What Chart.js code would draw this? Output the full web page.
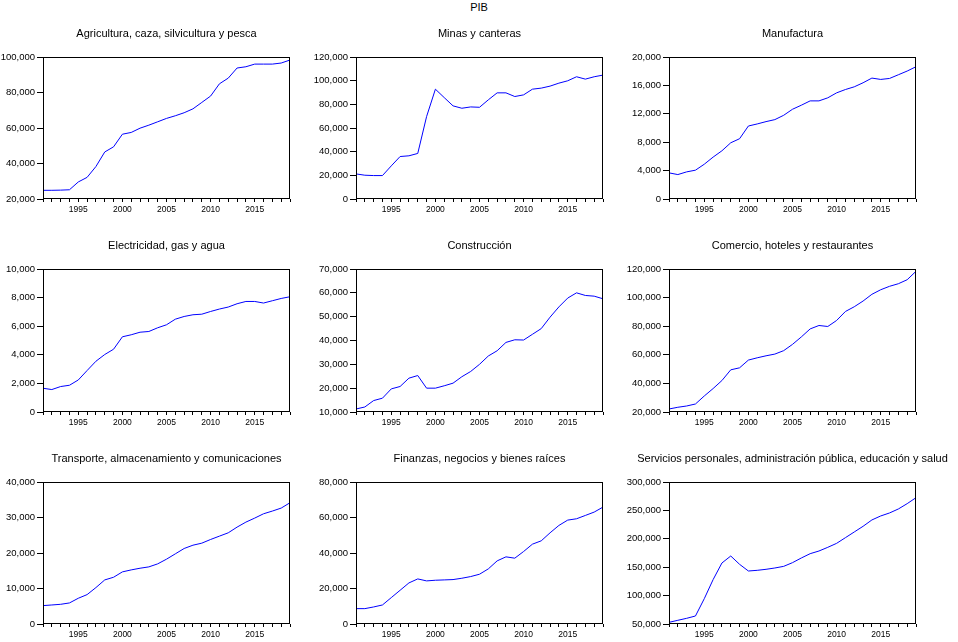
<!DOCTYPE html>
<html>
<head>
<meta charset="utf-8">
<title>PIB</title>
<script src="https://cdn.jsdelivr.net/npm/chart.js@4.4.1/dist/chart.umd.min.js"></script>
<style>
    html, body { margin: 0; padding: 0; background: #fff; }
    body { width: 958px; height: 642px; position: relative; overflow: hidden; font-family: "Liberation Sans", Arial, sans-serif; }
    #main-title { position: absolute; left: 0; top: 0; width: 958px; text-align: center; font-size: 11px; line-height: 14px; color: #000; }
    .panel { position: absolute; }
</style>
</head>
<body>
<div id="main-title">PIB</div>

<script>
/* =====================================
   DATA
===================================== */

const years = [1991, 1992, 1993, 1994, 1995, 1996, 1997, 1998, 1999, 2000,
               2001, 2002, 2003, 2004, 2005, 2006, 2007, 2008, 2009, 2010,
               2011, 2012, 2013, 2014, 2015, 2016, 2017, 2018, 2019];

const titles = [
    "Agricultura, caza, silvicultura y pesca",
    "Minas y canteras",
    "Manufactura",
    "Electricidad, gas y agua",
    "Construcción",
    "Comercio, hoteles y restaurantes",
    "Transporte, almacenamiento y comunicaciones",
    "Finanzas, negocios y bienes raíces",
    "Servicios personales, administración pública, educación y salud"
];

const agricultura = [24900, 24900, 25000, 25200, 29600, 32200, 38300, 46500, 49400, 56500,
                     57500, 59900, 61600, 63500, 65400, 66900, 68600, 70800, 74400, 78000,
                     84900, 88100, 93800, 94500, 96000, 96000, 96000, 96600, 98300];

const minas = [21200, 20100, 19800, 19800, 28000, 35900, 36500, 38500, 69600, 92800,
               85700, 78700, 76700, 77800, 77500, 83800, 89700, 89700, 86600, 88000,
               92800, 93700, 95400, 97900, 99900, 103300, 101300, 103300, 104700];

const manufactura = [3680, 3440, 3820, 4060, 4900, 5900, 6790, 7920, 8490, 10280,
                     10570, 10900, 11180, 11790, 12640, 13210, 13820, 13820, 14250, 14950,
                     15420, 15800, 16370, 17030, 16840, 16980, 17500, 18020, 18630];

const electricidad = [1660, 1570, 1780, 1870, 2240, 2900, 3550, 4020, 4390, 5260,
                      5400, 5580, 5630, 5890, 6100, 6490, 6680, 6800, 6840, 7030,
                      7200, 7340, 7570, 7730, 7730, 7620, 7780, 7940, 8060];

const construccion = [11260, 12100, 14800, 15800, 19700, 20700, 24200, 25300, 20000, 20000,
                      21000, 22100, 24800, 27000, 30000, 33500, 35700, 39200, 40300, 40200,
                      42600, 45000, 49800, 54100, 57800, 60000, 58900, 58600, 57500];

const comercio = [22100, 23300, 24200, 25600, 31200, 36400, 42000, 49500, 50900, 56300,
                  57900, 59300, 60500, 62900, 67300, 72500, 78100, 80500, 79800, 84000,
                  90300, 93600, 97600, 102300, 105500, 107900, 109700, 112500, 118400];

const transporte = [5180, 5360, 5550, 5930, 7250, 8280, 10260, 12420, 13170, 14680,
                    15240, 15710, 16090, 16940, 18260, 19760, 21270, 22200, 22770, 23810,
                    24750, 25690, 27290, 28700, 29830, 31050, 31810, 32650, 34160];

const finanzas = [8660, 8660, 9600, 10730, 14870, 19000, 23150, 25400, 24280, 24650,
                  24840, 25030, 25780, 26720, 28040, 31050, 35570, 37830, 37080, 40840,
                  44980, 46860, 51380, 55520, 58530, 59280, 61160, 63050, 65870];

const servicios = [52900, 56500, 60000, 64100, 94600, 128100, 157400, 169700, 155100, 143300,
                   144500, 146300, 148600, 151500, 158000, 166200, 173800, 178500, 185000, 192000,
                   202000, 212000, 222000, 233200, 240200, 245500, 252500, 261900, 272400];

// y axis ranges
const yMins  = [20000, 0, 0, 0, 10000, 20000, 0, 0, 50000];
const yMaxs  = [100000, 120000, 20000, 10000, 70000, 120000, 40000, 80000, 300000];
const ySteps = [20000, 20000, 4000, 2000, 10000, 20000, 10000, 20000, 50000];

const allSeries = [agricultura, minas, manufactura, electricidad, construccion,
                   comercio, transporte, finanzas, servicios];

/* =====================================
   LAYOUT
===================================== */

const plotLefts = [43, 356, 669];
const plotTops = [57, 269, 482];
const plotHeights = [142, 143, 142];
const plotW = 247;
const sideW = 60;     // y axis width, mirrored on the right so titles centre on the plot
const xAxisH = 24;
const titleH = 40;

const FONT = "'Liberation Sans', Arial, sans-serif";

// box round the plot area
const framePlugin = {
    id: "frame",
    afterDraw(chart) {
        const a = chart.chartArea;
        const c = chart.ctx;
        c.save();
        c.strokeStyle = "#000";
        c.lineWidth = 1;
        c.strokeRect(Math.round(a.left) + 0.5, Math.round(a.top) + 0.5,
                     Math.round(a.right - a.left) - 1, Math.round(a.bottom - a.top) - 1);
        c.restore();
    }
};

/* =====================================
   CHARTS
===================================== */

allSeries.forEach((series, i) => {
    const col = i % 3;
    const row = Math.floor(i / 3);

    const left = plotLefts[col] - sideW;
    const top = plotTops[row] - titleH;
    const width = sideW + plotW + sideW;
    const height = titleH + plotHeights[row] + xAxisH;

    const div = document.createElement("div");
    div.className = "panel";
    div.style.left = left + "px";
    div.style.top = top + "px";
    div.style.width = width + "px";
    div.style.height = height + "px";

    const cv = document.createElement("canvas");
    cv.width = width;
    cv.height = height;
    cv.style.width = width + "px";
    cv.style.height = height + "px";
    div.appendChild(cv);
    document.body.appendChild(div);

    new Chart(cv, {
        type: "line",
        data: {
            labels: years,
            datasets: [{
                data: series,
                borderColor: "#0000ff",
                borderWidth: 1,
                pointRadius: 0,
                tension: 0,
                fill: false
            }]
        },
        options: {
            responsive: false,
            animation: false,
            devicePixelRatio: 1,
            layout: { padding: 0 },
            plugins: {
                legend: { display: false },
                tooltip: { enabled: false },
                title: {
                    display: true,
                    text: titles[i],
                    color: "#000",
                    font: { family: FONT, size: 11, weight: "normal", lineHeight: "14px" },
                    padding: { top: 10, bottom: 16 }
                }
            },
            scales: {
                x: {
                    type: "linear",
                    min: 1991,
                    max: 2019,
                    afterFit: s => { s.height = xAxisH; },
                    border: { display: false },
                    grid: { drawOnChartArea: false, drawTicks: true, tickLength: 3, color: "#000" },
                    ticks: {
                        stepSize: 1,
                        autoSkip: false,
                        maxRotation: 0,
                        minRotation: 0,
                        padding: 3,
                        color: "#000",
                        font: { family: FONT, size: 8.5 },
                        callback: v => (v % 5 === 0 ? String(v) : "")
                    }
                },
                y: {
                    min: yMins[i],
                    max: yMaxs[i],
                    afterFit: s => { s.width = sideW; },
                    border: { display: false },
                    grid: { drawOnChartArea: false, drawTicks: true, tickLength: 6, color: "#000" },
                    ticks: {
                        stepSize: ySteps[i],
                        padding: 2,
                        color: "#000",
                        font: { family: FONT, size: 9.5 },
                        callback: v => v.toLocaleString("en-US")
                    }
                },
                // empty spacer on the right
                yRight: {
                    position: "right",
                    afterFit: s => { s.width = sideW; },
                    border: { display: false },
                    grid: { display: false },
                    ticks: { display: false }
                }
            }
        },
        plugins: [framePlugin]
    });
});
</script>
</body>
</html>
